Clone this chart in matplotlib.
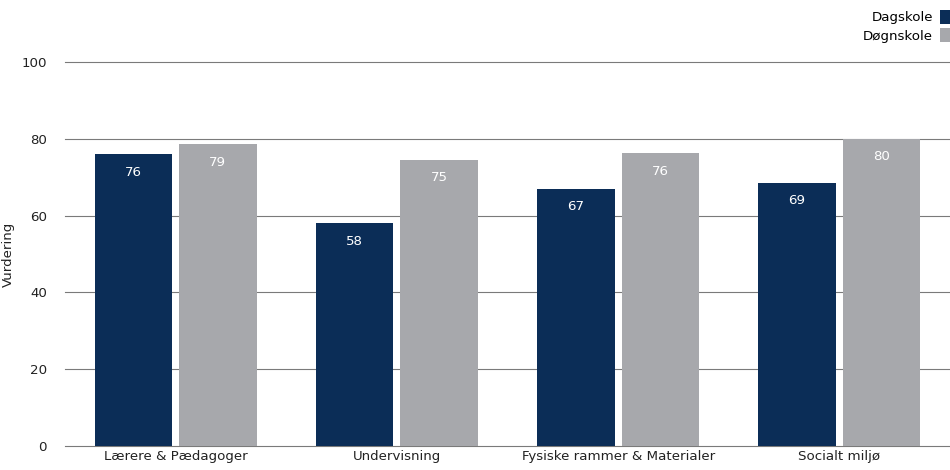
import matplotlib
matplotlib.use("Agg")
import matplotlib.pyplot as plt
import numpy as np

categories = ["Lærere & Pædagoger", "Undervisning", "Fysiske rammer & Materialer", "Socialt miljø"]
dagskole = [76, 58, 67, 68.5]
dognskole = [78.6, 74.5, 76.3, 80]
dag_labels = ["76", "58", "67", "69"]
dogn_labels = ["79", "75", "76", "80"]
series_names = ["Dagskole", "Døgnskole"]
yticks = [0, 20, 40, 60, 80, 100]

navy = "#0b2d57"
grey = "#a7a8ac"
fs = 9.6

plt.rcParams['font.family'] = ['DejaVu Sans']
fig = plt.figure(figsize=(9.5, 4.7), dpi=100)
ax_left = 65
ax = fig.add_axes([ax_left/950, 24/470, 1 - ax_left/950, (446-62)/470])

x = np.arange(len(categories))
w = 0.35
gap = 0.016
b1 = ax.bar(x - w/2 - gap, dagskole, w, color=navy, label=series_names[0], zorder=3)
b2 = ax.bar(x + w/2 + gap, dognskole, w, color=grey, label=series_names[1], zorder=3)

for rects, labs in ((b1, dag_labels), (b2, dogn_labels)):
    for r, t in zip(rects, labs):
        ax.annotate(t, (r.get_x() + r.get_width()/2, r.get_height()),
                    xytext=(0, -18), textcoords="offset pixels",
                    ha="center", va="center", color="white", fontsize=fs, zorder=4)

ax.set_xlim(-0.5, len(categories) - 0.5)
ax.set_ylim(0, 100)
ax.set_yticks(yticks)
ax.set_xticks(x)
ax.set_xticklabels(categories, fontsize=fs)
ax.tick_params(axis="y", length=0, pad=13, labelsize=fs, labelcolor="#222222")
ax.tick_params(axis="x", length=0, pad=3, labelcolor="#222222")
ax.grid(axis="y", color="#7a7a7a", linewidth=0.8, zorder=0)
for gl in ax.get_ygridlines():
    gl.set_clip_on(False)
for s in ax.spines.values():
    s.set_visible(False)
ax.set_ylabel("Vurdering", fontsize=fs, color="#222222")
ax.yaxis.set_label_coords((15 - ax_left) / (950 - ax_left), 0.5)

leg = fig.legend(handles=[b1, b2], labels=series_names, loc="upper right",
                 bbox_to_anchor=(1.0 + 1/950, 1 - 10/470), frameon=False, markerfirst=False,
                 handlelength=0.85, handleheight=1.2, handletextpad=0.5,
                 labelspacing=0.3, fontsize=fs, borderaxespad=0, borderpad=0)

fig.savefig("out.png", dpi=100)
